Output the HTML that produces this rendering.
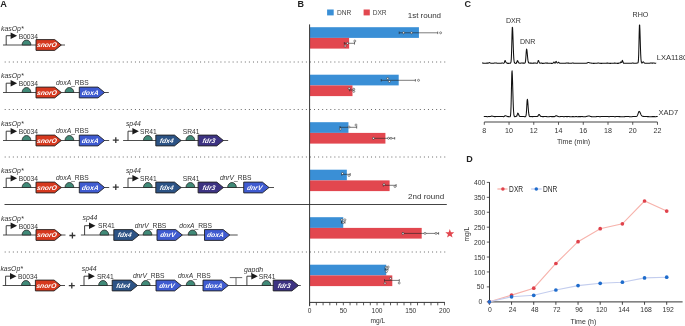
<!DOCTYPE html>
<html><head><meta charset="utf-8"><style>
html,body{margin:0;padding:0;background:#fff;}
svg{display:block;font-family:"Liberation Sans", sans-serif;will-change:transform;}
</style></head><body>
<svg width="685" height="326" viewBox="0 0 685 326">
<rect width="685" height="326" fill="#fff"/>
<line x1="3" y1="45.0" x2="65" y2="45.0" stroke="#3a3a3a" stroke-width="0.9"/>
<text x="1.00" y="31.00" font-size="6.9" fill="#333" font-style="italic" >kasOp*</text>
<path d="M6.2,45.0 V35.70 H11.10" fill="none" stroke="#2a2a2a" stroke-width="0.9"/>
<path d="M10.60,32.40 L10.60,39.10 L17.10,35.75 Z" fill="#1a1a1a"/>
<text x="18.70" y="38.90" font-size="6.7" fill="#333" >B0034</text>
<path d="M22.10,45.0 A4.4,5.0 0 0 1 30.90,45.0 Z" fill="#418a78" stroke="#222" stroke-width="0.75"/>
<path d="M36.0,39.60 H54.70 L61.30,45.0 L54.70,50.40 H36.0 Z" fill="#d6391f" stroke="#222" stroke-width="0.9"/>
<text transform="translate(46.60,47.40) skewX(-10)" font-size="6.7" fill="#fff" font-weight="bold" font-style="italic" text-anchor="middle">snorO</text>
<line x1="3" y1="92.5" x2="108.8" y2="92.5" stroke="#3a3a3a" stroke-width="0.9"/>
<text x="1.00" y="77.90" font-size="6.9" fill="#333" font-style="italic" >kasOp*</text>
<path d="M6.2,92.5 V83.20 H11.10" fill="none" stroke="#2a2a2a" stroke-width="0.9"/>
<path d="M10.60,79.90 L10.60,86.60 L17.10,83.25 Z" fill="#1a1a1a"/>
<text x="18.70" y="85.80" font-size="6.7" fill="#333" >B0034</text>
<path d="M22.10,92.5 A4.4,5.0 0 0 1 30.90,92.5 Z" fill="#418a78" stroke="#222" stroke-width="0.75"/>
<path d="M36.0,87.10 H54.70 L61.30,92.5 L54.70,97.90 H36.0 Z" fill="#d6391f" stroke="#222" stroke-width="0.9"/>
<text transform="translate(46.60,94.90) skewX(-10)" font-size="6.7" fill="#fff" font-weight="bold" font-style="italic" text-anchor="middle">snorO</text>
<text x="55.90" y="85.20" font-size="6.7" fill="#333"><tspan font-style="italic">doxA</tspan>_RBS</text>
<path d="M65.00,92.5 A4.4,5.0 0 0 1 73.80,92.5 Z" fill="#418a78" stroke="#222" stroke-width="0.75"/>
<path d="M79.3,87.10 H98.00 L104.60,92.5 L98.00,97.90 H79.3 Z" fill="#3f5bd0" stroke="#222" stroke-width="0.9"/>
<text transform="translate(89.90,94.90) skewX(-10)" font-size="6.7" fill="#fff" font-weight="bold" font-style="italic" text-anchor="middle">doxA</text>
<line x1="3" y1="140.5" x2="109.2" y2="140.5" stroke="#3a3a3a" stroke-width="0.9"/>
<text x="1.00" y="125.90" font-size="6.9" fill="#333" font-style="italic" >kasOp*</text>
<path d="M6.2,140.5 V131.20 H11.10" fill="none" stroke="#2a2a2a" stroke-width="0.9"/>
<path d="M10.60,127.90 L10.60,134.60 L17.10,131.25 Z" fill="#1a1a1a"/>
<text x="18.70" y="133.80" font-size="6.7" fill="#333" >B0034</text>
<path d="M22.10,140.5 A4.4,5.0 0 0 1 30.90,140.5 Z" fill="#418a78" stroke="#222" stroke-width="0.75"/>
<path d="M36.0,135.10 H54.70 L61.30,140.5 L54.70,145.90 H36.0 Z" fill="#d6391f" stroke="#222" stroke-width="0.9"/>
<text transform="translate(46.60,142.90) skewX(-10)" font-size="6.7" fill="#fff" font-weight="bold" font-style="italic" text-anchor="middle">snorO</text>
<text x="55.90" y="133.20" font-size="6.7" fill="#333"><tspan font-style="italic">doxA</tspan>_RBS</text>
<path d="M65.00,140.5 A4.4,5.0 0 0 1 73.80,140.5 Z" fill="#418a78" stroke="#222" stroke-width="0.75"/>
<path d="M79.3,135.10 H98.00 L104.60,140.5 L98.00,145.90 H79.3 Z" fill="#3f5bd0" stroke="#222" stroke-width="0.9"/>
<text transform="translate(89.90,142.90) skewX(-10)" font-size="6.7" fill="#fff" font-weight="bold" font-style="italic" text-anchor="middle">doxA</text>
<path d="M112.80,140.10 H118.80 M115.80,137.20 V143.00" stroke="#333" stroke-width="1.3"/>
<line x1="123.1" y1="140.5" x2="228.2" y2="140.5" stroke="#3a3a3a" stroke-width="0.9"/>
<text x="125.90" y="125.80" font-size="6.9" fill="#333" font-style="italic" >sp44</text>
<path d="M128,140.5 V131.20 H132.90" fill="none" stroke="#2a2a2a" stroke-width="0.9"/>
<path d="M132.40,127.90 L132.40,134.60 L138.90,131.25 Z" fill="#1a1a1a"/>
<text x="140.00" y="134.00" font-size="6.7" fill="#333" >SR41</text>
<path d="M143.45,140.5 A4.4,5.0 0 0 1 152.25,140.5 Z" fill="#418a78" stroke="#222" stroke-width="0.75"/>
<path d="M155.8,135.10 H174.50 L181.10,140.5 L174.50,145.90 H155.8 Z" fill="#2c5385" stroke="#222" stroke-width="0.9"/>
<text transform="translate(166.40,142.90) skewX(-10)" font-size="6.7" fill="#fff" font-weight="bold" font-style="italic" text-anchor="middle">fdx4</text>
<text x="182.70" y="134.00" font-size="6.7" fill="#333" >SR41</text>
<path d="M185.95,140.5 A4.4,5.0 0 0 1 194.75,140.5 Z" fill="#418a78" stroke="#222" stroke-width="0.75"/>
<path d="M198.1,135.10 H216.80 L223.40,140.5 L216.80,145.90 H198.1 Z" fill="#3d3382" stroke="#222" stroke-width="0.9"/>
<text transform="translate(208.70,142.90) skewX(-10)" font-size="6.7" fill="#fff" font-weight="bold" font-style="italic" text-anchor="middle">fdr3</text>
<line x1="3" y1="187.5" x2="109.2" y2="187.5" stroke="#3a3a3a" stroke-width="0.9"/>
<text x="1.00" y="172.90" font-size="6.9" fill="#333" font-style="italic" >kasOp*</text>
<path d="M6.2,187.5 V178.20 H11.10" fill="none" stroke="#2a2a2a" stroke-width="0.9"/>
<path d="M10.60,174.90 L10.60,181.60 L17.10,178.25 Z" fill="#1a1a1a"/>
<text x="18.70" y="180.80" font-size="6.7" fill="#333" >B0034</text>
<path d="M22.10,187.5 A4.4,5.0 0 0 1 30.90,187.5 Z" fill="#418a78" stroke="#222" stroke-width="0.75"/>
<path d="M36.0,182.10 H54.70 L61.30,187.5 L54.70,192.90 H36.0 Z" fill="#d6391f" stroke="#222" stroke-width="0.9"/>
<text transform="translate(46.60,189.90) skewX(-10)" font-size="6.7" fill="#fff" font-weight="bold" font-style="italic" text-anchor="middle">snorO</text>
<text x="55.90" y="180.20" font-size="6.7" fill="#333"><tspan font-style="italic">doxA</tspan>_RBS</text>
<path d="M65.00,187.5 A4.4,5.0 0 0 1 73.80,187.5 Z" fill="#418a78" stroke="#222" stroke-width="0.75"/>
<path d="M79.3,182.10 H98.00 L104.60,187.5 L98.00,192.90 H79.3 Z" fill="#3f5bd0" stroke="#222" stroke-width="0.9"/>
<text transform="translate(89.90,189.90) skewX(-10)" font-size="6.7" fill="#fff" font-weight="bold" font-style="italic" text-anchor="middle">doxA</text>
<path d="M112.80,187.10 H118.80 M115.80,184.20 V190.00" stroke="#333" stroke-width="1.3"/>
<line x1="123.1" y1="187.5" x2="274" y2="187.5" stroke="#3a3a3a" stroke-width="0.9"/>
<text x="125.90" y="172.80" font-size="6.9" fill="#333" font-style="italic" >sp44</text>
<path d="M128,187.5 V178.20 H132.90" fill="none" stroke="#2a2a2a" stroke-width="0.9"/>
<path d="M132.40,174.90 L132.40,181.60 L138.90,178.25 Z" fill="#1a1a1a"/>
<text x="140.00" y="181.00" font-size="6.7" fill="#333" >SR41</text>
<path d="M143.45,187.5 A4.4,5.0 0 0 1 152.25,187.5 Z" fill="#418a78" stroke="#222" stroke-width="0.75"/>
<path d="M155.8,182.10 H174.50 L181.10,187.5 L174.50,192.90 H155.8 Z" fill="#2c5385" stroke="#222" stroke-width="0.9"/>
<text transform="translate(166.40,189.90) skewX(-10)" font-size="6.7" fill="#fff" font-weight="bold" font-style="italic" text-anchor="middle">fdx4</text>
<text x="182.70" y="181.00" font-size="6.7" fill="#333" >SR41</text>
<path d="M185.95,187.5 A4.4,5.0 0 0 1 194.75,187.5 Z" fill="#418a78" stroke="#222" stroke-width="0.75"/>
<path d="M198.1,182.10 H216.80 L223.40,187.5 L216.80,192.90 H198.1 Z" fill="#3d3382" stroke="#222" stroke-width="0.9"/>
<text transform="translate(208.70,189.90) skewX(-10)" font-size="6.7" fill="#fff" font-weight="bold" font-style="italic" text-anchor="middle">fdr3</text>
<text x="219.90" y="180.30" font-size="6.7" fill="#333"><tspan font-style="italic">dnrV</tspan>_RBS</text>
<path d="M227.60,187.5 A4.4,5.0 0 0 1 236.40,187.5 Z" fill="#418a78" stroke="#222" stroke-width="0.75"/>
<path d="M243.7,182.10 H262.40 L269.00,187.5 L262.40,192.90 H243.7 Z" fill="#3f5bd0" stroke="#222" stroke-width="0.9"/>
<text transform="translate(254.30,189.90) skewX(-10)" font-size="6.7" fill="#fff" font-weight="bold" font-style="italic" text-anchor="middle">dnrV</text>
<line x1="3" y1="235.0" x2="65.5" y2="235.0" stroke="#3a3a3a" stroke-width="0.9"/>
<text x="1.00" y="221.10" font-size="6.9" fill="#333" font-style="italic" >kasOp*</text>
<path d="M6.2,235.0 V225.70 H11.10" fill="none" stroke="#2a2a2a" stroke-width="0.9"/>
<path d="M10.60,222.40 L10.60,229.10 L17.10,225.75 Z" fill="#1a1a1a"/>
<text x="18.70" y="229.00" font-size="6.7" fill="#333" >B0034</text>
<path d="M22.10,235.0 A4.4,5.0 0 0 1 30.90,235.0 Z" fill="#418a78" stroke="#222" stroke-width="0.75"/>
<path d="M36.0,229.60 H54.70 L61.30,235.0 L54.70,240.40 H36.0 Z" fill="#d6391f" stroke="#222" stroke-width="0.9"/>
<text transform="translate(46.60,237.40) skewX(-10)" font-size="6.7" fill="#fff" font-weight="bold" font-style="italic" text-anchor="middle">snorO</text>
<path d="M69.40,235.50 H75.40 M72.40,232.60 V238.40" stroke="#333" stroke-width="1.3"/>
<line x1="80.9" y1="235.0" x2="237.7" y2="235.0" stroke="#3a3a3a" stroke-width="0.9"/>
<text x="82.50" y="220.30" font-size="6.9" fill="#333" font-style="italic" >sp44</text>
<path d="M84.6,235.0 V225.70 H89.50" fill="none" stroke="#2a2a2a" stroke-width="0.9"/>
<path d="M89.00,222.40 L89.00,229.10 L95.50,225.75 Z" fill="#1a1a1a"/>
<text x="98.10" y="227.60" font-size="6.7" fill="#333" >SR41</text>
<path d="M99.95,235.0 A4.4,5.0 0 0 1 108.75,235.0 Z" fill="#418a78" stroke="#222" stroke-width="0.75"/>
<path d="M113.8,229.60 H132.50 L139.10,235.0 L132.50,240.40 H113.8 Z" fill="#2c5385" stroke="#222" stroke-width="0.9"/>
<text transform="translate(124.40,237.40) skewX(-10)" font-size="6.7" fill="#fff" font-weight="bold" font-style="italic" text-anchor="middle">fdx4</text>
<text x="134.70" y="228.00" font-size="6.7" fill="#333"><tspan font-style="italic">dnrV</tspan>_RBS</text>
<path d="M143.10,235.0 A4.4,5.0 0 0 1 151.90,235.0 Z" fill="#418a78" stroke="#222" stroke-width="0.75"/>
<path d="M157,229.60 H175.70 L182.30,235.0 L175.70,240.40 H157 Z" fill="#3f5bd0" stroke="#222" stroke-width="0.9"/>
<text transform="translate(167.60,237.40) skewX(-10)" font-size="6.7" fill="#fff" font-weight="bold" font-style="italic" text-anchor="middle">dnrV</text>
<text x="179.30" y="228.00" font-size="6.7" fill="#333"><tspan font-style="italic">doxA</tspan>_RBS</text>
<path d="M188.10,235.0 A4.4,5.0 0 0 1 196.90,235.0 Z" fill="#418a78" stroke="#222" stroke-width="0.75"/>
<path d="M204.5,229.60 H223.20 L229.80,235.0 L223.20,240.40 H204.5 Z" fill="#3f5bd0" stroke="#222" stroke-width="0.9"/>
<text transform="translate(215.10,237.40) skewX(-10)" font-size="6.7" fill="#fff" font-weight="bold" font-style="italic" text-anchor="middle">doxA</text>
<line x1="2.7" y1="285.5" x2="65" y2="285.5" stroke="#3a3a3a" stroke-width="0.9"/>
<text x="0.40" y="270.90" font-size="6.9" fill="#333" font-style="italic" >kasOp*</text>
<path d="M5.6000000000000005,285.5 V276.20 H10.50" fill="none" stroke="#2a2a2a" stroke-width="0.9"/>
<path d="M10.00,272.90 L10.00,279.60 L16.50,276.25 Z" fill="#1a1a1a"/>
<text x="18.10" y="278.80" font-size="6.7" fill="#333" >B0034</text>
<path d="M21.50,285.5 A4.4,5.0 0 0 1 30.30,285.5 Z" fill="#418a78" stroke="#222" stroke-width="0.75"/>
<path d="M35.4,280.10 H54.10 L60.70,285.5 L54.10,290.90 H35.4 Z" fill="#d6391f" stroke="#222" stroke-width="0.9"/>
<text transform="translate(46.00,287.90) skewX(-10)" font-size="6.7" fill="#fff" font-weight="bold" font-style="italic" text-anchor="middle">snorO</text>
<path d="M68.80,285.60 H74.80 M71.80,282.70 V288.50" stroke="#333" stroke-width="1.3"/>
<line x1="80.1" y1="285.5" x2="300.8" y2="285.5" stroke="#3a3a3a" stroke-width="0.9"/>
<text x="81.70" y="270.80" font-size="6.9" fill="#333" font-style="italic" >sp44</text>
<path d="M84.0,285.5 V276.20 H88.90" fill="none" stroke="#2a2a2a" stroke-width="0.9"/>
<path d="M88.40,272.90 L88.40,279.60 L94.90,276.25 Z" fill="#1a1a1a"/>
<text x="96.90" y="278.70" font-size="6.7" fill="#333" >SR41</text>
<path d="M98.60,285.5 A4.4,5.0 0 0 1 107.40,285.5 Z" fill="#418a78" stroke="#222" stroke-width="0.75"/>
<path d="M112.2,280.10 H130.90 L137.50,285.5 L130.90,290.90 H112.2 Z" fill="#2c5385" stroke="#222" stroke-width="0.9"/>
<text transform="translate(122.80,287.90) skewX(-10)" font-size="6.7" fill="#fff" font-weight="bold" font-style="italic" text-anchor="middle">fdx4</text>
<text x="132.90" y="278.10" font-size="6.7" fill="#333"><tspan font-style="italic">dnrV</tspan>_RBS</text>
<path d="M141.35,285.5 A4.4,5.0 0 0 1 150.15,285.5 Z" fill="#418a78" stroke="#222" stroke-width="0.75"/>
<path d="M156,280.10 H174.70 L181.30,285.5 L174.70,290.90 H156 Z" fill="#3f5bd0" stroke="#222" stroke-width="0.9"/>
<text transform="translate(166.60,287.90) skewX(-10)" font-size="6.7" fill="#fff" font-weight="bold" font-style="italic" text-anchor="middle">dnrV</text>
<text x="177.90" y="278.10" font-size="6.7" fill="#333"><tspan font-style="italic">doxA</tspan>_RBS</text>
<path d="M186.20,285.5 A4.4,5.0 0 0 1 195.00,285.5 Z" fill="#418a78" stroke="#222" stroke-width="0.75"/>
<path d="M203,280.10 H221.70 L228.30,285.5 L221.70,290.90 H203 Z" fill="#3f5bd0" stroke="#222" stroke-width="0.9"/>
<text transform="translate(213.60,287.90) skewX(-10)" font-size="6.7" fill="#fff" font-weight="bold" font-style="italic" text-anchor="middle">doxA</text>
<path d="M236,285.5 V277.6 M229.8,277.6 H242.2" stroke="#555" stroke-width="0.9" fill="none"/>
<text x="243.90" y="271.70" font-size="6.9" fill="#333" font-style="italic" >gapdh</text>
<path d="M246.9,285.5 V276.20 H251.80" fill="none" stroke="#2a2a2a" stroke-width="0.9"/>
<path d="M251.30,272.90 L251.30,279.60 L257.80,276.25 Z" fill="#1a1a1a"/>
<text x="258.80" y="279.00" font-size="6.7" fill="#333" >SR41</text>
<path d="M262.05,285.5 A4.4,5.0 0 0 1 270.85,285.5 Z" fill="#418a78" stroke="#222" stroke-width="0.75"/>
<path d="M273.2,280.10 H291.90 L298.50,285.5 L291.90,290.90 H273.2 Z" fill="#3d3382" stroke="#222" stroke-width="0.9"/>
<text transform="translate(283.80,287.90) skewX(-10)" font-size="6.7" fill="#fff" font-weight="bold" font-style="italic" text-anchor="middle">fdr3</text>
<line x1="4.7" y1="62.0" x2="446" y2="62.0" stroke="#6a6a6a" stroke-width="1" stroke-dasharray="1 3.07"/>
<line x1="4.7" y1="109.5" x2="446" y2="109.5" stroke="#6a6a6a" stroke-width="1" stroke-dasharray="1 3.07"/>
<line x1="4.7" y1="157.0" x2="446" y2="157.0" stroke="#6a6a6a" stroke-width="1" stroke-dasharray="1 3.07"/>
<line x1="4.7" y1="252.0" x2="446" y2="252.0" stroke="#6a6a6a" stroke-width="1" stroke-dasharray="1 3.07"/>
<line x1="4.5" y1="204.5" x2="446.8" y2="204.5" stroke="#444" stroke-width="1"/>
<rect x="310.0" y="27.20" width="108.93" height="10.7" fill="#3a8fd6"/>
<rect x="310.0" y="37.90" width="39.12" height="10.7" fill="#e2474f"/>
<rect x="310.0" y="74.70" width="88.70" height="10.7" fill="#3a8fd6"/>
<rect x="310.0" y="85.40" width="42.49" height="10.7" fill="#e2474f"/>
<rect x="310.0" y="122.20" width="38.45" height="10.7" fill="#3a8fd6"/>
<rect x="310.0" y="132.90" width="75.41" height="10.7" fill="#e2474f"/>
<rect x="310.0" y="169.70" width="36.83" height="10.7" fill="#3a8fd6"/>
<rect x="310.0" y="180.40" width="79.59" height="10.7" fill="#e2474f"/>
<rect x="310.0" y="217.20" width="33.25" height="10.7" fill="#3a8fd6"/>
<rect x="310.0" y="227.90" width="111.70" height="10.7" fill="#e2474f"/>
<rect x="310.0" y="264.70" width="76.22" height="10.7" fill="#3a8fd6"/>
<rect x="310.0" y="275.40" width="82.29" height="10.7" fill="#e2474f"/>
<path d="M399.2,32.8 H437.7 M399.2,31.499999999999996 V34.099999999999994 M437.7,31.499999999999996 V34.099999999999994" stroke="#222" stroke-width="0.6" fill="none"/>
<circle cx="403.6" cy="32.8" r="1.0" fill="#fff" stroke="#222" stroke-width="0.5"/>
<circle cx="411.5" cy="32.8" r="1.0" fill="#fff" stroke="#222" stroke-width="0.5"/>
<circle cx="440.6" cy="32.8" r="1.0" fill="#fff" stroke="#222" stroke-width="0.5"/>
<path d="M344.3,43.3 H354.5 M344.3,42.0 V44.599999999999994 M354.5,42.0 V44.599999999999994" stroke="#222" stroke-width="0.6" fill="none"/>
<circle cx="347.5" cy="43.3" r="1.0" fill="#fff" stroke="#222" stroke-width="0.5"/>
<circle cx="345.1" cy="46" r="1.0" fill="#fff" stroke="#222" stroke-width="0.5"/>
<circle cx="354.8" cy="41" r="1.0" fill="#fff" stroke="#222" stroke-width="0.5"/>
<path d="M381.2,80.3 H415.4 M381.2,79.0 V81.6 M415.4,79.0 V81.6" stroke="#222" stroke-width="0.6" fill="none"/>
<circle cx="387.7" cy="78.5" r="1.0" fill="#fff" stroke="#222" stroke-width="0.5"/>
<circle cx="389.4" cy="81.5" r="1.0" fill="#fff" stroke="#222" stroke-width="0.5"/>
<circle cx="418.5" cy="80.3" r="1.0" fill="#fff" stroke="#222" stroke-width="0.5"/>
<path d="M349.6,90.0 H353.4 M349.6,88.7 V91.3 M353.4,88.7 V91.3" stroke="#222" stroke-width="0.6" fill="none"/>
<circle cx="349.2" cy="88.6" r="1.0" fill="#fff" stroke="#222" stroke-width="0.5"/>
<circle cx="353.8" cy="89.2" r="1.0" fill="#fff" stroke="#222" stroke-width="0.5"/>
<circle cx="353.8" cy="91.4" r="1.0" fill="#fff" stroke="#222" stroke-width="0.5"/>
<path d="M340.0,127.3 H356.7 M340.0,126.0 V128.6 M356.7,126.0 V128.6" stroke="#222" stroke-width="0.6" fill="none"/>
<circle cx="340.3" cy="129" r="1.0" fill="#fff" stroke="#222" stroke-width="0.5"/>
<circle cx="349" cy="127" r="1.0" fill="#fff" stroke="#222" stroke-width="0.5"/>
<circle cx="356" cy="125" r="1.0" fill="#fff" stroke="#222" stroke-width="0.5"/>
<path d="M373.3,138.3 H394.7 M373.3,137.0 V139.60000000000002 M394.7,137.0 V139.60000000000002" stroke="#222" stroke-width="0.6" fill="none"/>
<circle cx="373.5" cy="138.3" r="1.0" fill="#fff" stroke="#222" stroke-width="0.5"/>
<circle cx="388.5" cy="138.3" r="1.0" fill="#fff" stroke="#222" stroke-width="0.5"/>
<circle cx="391" cy="138.3" r="1.0" fill="#fff" stroke="#222" stroke-width="0.5"/>
<path d="M341.8,174.3 H350.2 M341.8,173.0 V175.60000000000002 M350.2,173.0 V175.60000000000002" stroke="#222" stroke-width="0.6" fill="none"/>
<circle cx="342.5" cy="173.5" r="1.0" fill="#fff" stroke="#222" stroke-width="0.5"/>
<circle cx="349" cy="175.5" r="1.0" fill="#fff" stroke="#222" stroke-width="0.5"/>
<path d="M383.3,185.3 H396.1 M383.3,184.0 V186.60000000000002 M396.1,184.0 V186.60000000000002" stroke="#222" stroke-width="0.6" fill="none"/>
<circle cx="384" cy="184.5" r="1.0" fill="#fff" stroke="#222" stroke-width="0.5"/>
<circle cx="395" cy="186.5" r="1.0" fill="#fff" stroke="#222" stroke-width="0.5"/>
<path d="M341.5,222.3 H345.0 M341.5,221.0 V223.60000000000002 M345.0,221.0 V223.60000000000002" stroke="#222" stroke-width="0.6" fill="none"/>
<circle cx="341.8" cy="219.8" r="1.0" fill="#fff" stroke="#222" stroke-width="0.5"/>
<circle cx="344.9" cy="219.8" r="1.0" fill="#fff" stroke="#222" stroke-width="0.5"/>
<circle cx="343.2" cy="222.6" r="1.0" fill="#fff" stroke="#222" stroke-width="0.5"/>
<path d="M402.6,233.4 H438.6 M402.6,232.1 V234.70000000000002 M438.6,232.1 V234.70000000000002" stroke="#222" stroke-width="0.6" fill="none"/>
<circle cx="403" cy="233.4" r="1.0" fill="#fff" stroke="#222" stroke-width="0.5"/>
<circle cx="425" cy="233.4" r="1.0" fill="#fff" stroke="#222" stroke-width="0.5"/>
<circle cx="436" cy="233.4" r="1.0" fill="#fff" stroke="#222" stroke-width="0.5"/>
<path d="M385.0,269.4 H388.0 M385.0,268.09999999999997 V270.7 M388.0,268.09999999999997 V270.7" stroke="#222" stroke-width="0.6" fill="none"/>
<circle cx="386.0" cy="267.2" r="1.0" fill="#fff" stroke="#222" stroke-width="0.5"/>
<circle cx="388.2" cy="267.0" r="1.0" fill="#fff" stroke="#222" stroke-width="0.5"/>
<circle cx="386.4" cy="271.6" r="1.0" fill="#fff" stroke="#222" stroke-width="0.5"/>
<path d="M384.5,280.4 H399.3 M384.5,279.09999999999997 V281.7 M399.3,279.09999999999997 V281.7" stroke="#222" stroke-width="0.6" fill="none"/>
<circle cx="385" cy="283.2" r="1.0" fill="#fff" stroke="#222" stroke-width="0.5"/>
<circle cx="390.6" cy="278.4" r="1.0" fill="#fff" stroke="#222" stroke-width="0.5"/>
<circle cx="399.2" cy="283" r="1.0" fill="#fff" stroke="#222" stroke-width="0.5"/>
<line x1="309.6" y1="24.4" x2="309.6" y2="306.2" stroke="#333" stroke-width="1"/>
<line x1="309.6" y1="302.4" x2="444.9" y2="302.4" stroke="#333" stroke-width="1"/>
<line x1="309.60" y1="302.4" x2="309.60" y2="305.3" stroke="#333" stroke-width="0.8"/>
<text x="309.60" y="313.00" font-size="6.6" fill="#333" text-anchor="middle" >0</text>
<line x1="316.35" y1="302.4" x2="316.35" y2="305.3" stroke="#333" stroke-width="0.8"/>
<line x1="323.09" y1="302.4" x2="323.09" y2="305.3" stroke="#333" stroke-width="0.8"/>
<line x1="329.84" y1="302.4" x2="329.84" y2="305.3" stroke="#333" stroke-width="0.8"/>
<line x1="336.58" y1="302.4" x2="336.58" y2="305.3" stroke="#333" stroke-width="0.8"/>
<line x1="343.33" y1="302.4" x2="343.33" y2="305.3" stroke="#333" stroke-width="0.8"/>
<text x="343.33" y="313.00" font-size="6.6" fill="#333" text-anchor="middle" >50</text>
<line x1="350.07" y1="302.4" x2="350.07" y2="305.3" stroke="#333" stroke-width="0.8"/>
<line x1="356.81" y1="302.4" x2="356.81" y2="305.3" stroke="#333" stroke-width="0.8"/>
<line x1="363.56" y1="302.4" x2="363.56" y2="305.3" stroke="#333" stroke-width="0.8"/>
<line x1="370.31" y1="302.4" x2="370.31" y2="305.3" stroke="#333" stroke-width="0.8"/>
<line x1="377.05" y1="302.4" x2="377.05" y2="305.3" stroke="#333" stroke-width="0.8"/>
<text x="377.05" y="313.00" font-size="6.6" fill="#333" text-anchor="middle" >100</text>
<line x1="383.80" y1="302.4" x2="383.80" y2="305.3" stroke="#333" stroke-width="0.8"/>
<line x1="390.54" y1="302.4" x2="390.54" y2="305.3" stroke="#333" stroke-width="0.8"/>
<line x1="397.29" y1="302.4" x2="397.29" y2="305.3" stroke="#333" stroke-width="0.8"/>
<line x1="404.03" y1="302.4" x2="404.03" y2="305.3" stroke="#333" stroke-width="0.8"/>
<line x1="410.77" y1="302.4" x2="410.77" y2="305.3" stroke="#333" stroke-width="0.8"/>
<text x="410.77" y="313.00" font-size="6.6" fill="#333" text-anchor="middle" >150</text>
<line x1="417.52" y1="302.4" x2="417.52" y2="305.3" stroke="#333" stroke-width="0.8"/>
<line x1="424.26" y1="302.4" x2="424.26" y2="305.3" stroke="#333" stroke-width="0.8"/>
<line x1="431.01" y1="302.4" x2="431.01" y2="305.3" stroke="#333" stroke-width="0.8"/>
<line x1="437.75" y1="302.4" x2="437.75" y2="305.3" stroke="#333" stroke-width="0.8"/>
<line x1="444.50" y1="302.4" x2="444.50" y2="305.3" stroke="#333" stroke-width="0.8"/>
<text x="444.50" y="313.00" font-size="6.6" fill="#333" text-anchor="middle" >200</text>
<text x="377.90" y="323.00" font-size="6.6" fill="#333" text-anchor="middle" >mg/L</text>
<rect x="327.1" y="9.5" width="6.6" height="5.9" fill="#3a8fd6"/>
<rect x="363.6" y="9.5" width="6.2" height="5.9" fill="#e2474f"/>
<text x="337.00" y="15.30" font-size="6.6" fill="#444" >DNR</text>
<text x="372.70" y="15.30" font-size="6.6" fill="#444" >DXR</text>
<text x="407.70" y="18.00" font-size="8" fill="#333" >1st round</text>
<text x="408.10" y="198.80" font-size="8" fill="#333" >2nd round</text>
<polygon points="449.80,229.10 450.95,232.22 454.27,232.35 451.65,234.40 452.56,237.60 449.80,235.75 447.04,237.60 447.95,234.40 445.33,232.35 448.65,232.22" fill="#e2474f"/>
<text x="0.30" y="6.80" font-size="9.2" fill="#222" font-weight="bold" >A</text>
<text x="297.50" y="6.80" font-size="9" fill="#222" font-weight="bold" >B</text>
<text x="464.40" y="7.00" font-size="9" fill="#222" font-weight="bold" >C</text>
<text x="466.20" y="161.60" font-size="9" fill="#222" font-weight="bold" >D</text>
<polyline points="482.00,63.07 482.25,63.07 482.50,63.07 482.75,63.07 483.00,63.07 483.25,63.07 483.50,63.33 483.75,63.33 484.00,63.33 484.25,63.33 484.50,63.33 484.75,63.33 485.00,63.29 485.25,63.29 485.50,63.29 485.75,63.29 486.00,63.29 486.25,63.29 486.51,63.11 486.76,63.11 487.01,63.11 487.26,63.11 487.51,63.11 487.76,63.11 488.01,63.17 488.26,63.12 488.51,63.00 488.76,62.83 489.01,62.66 489.26,62.60 489.51,62.63 489.76,62.73 490.01,62.87 490.26,62.99 490.51,63.08 490.76,63.14 491.01,63.24 491.26,63.25 491.51,63.25 491.76,63.25 492.01,63.25 492.26,63.25 492.51,63.30 492.76,63.30 493.01,63.30 493.26,63.30 493.51,63.30 493.76,63.30 494.01,63.05 494.26,63.05 494.51,63.05 494.76,63.05 495.01,63.05 495.27,63.05 495.52,63.03 495.77,63.03 496.02,63.03 496.27,63.03 496.52,63.03 496.77,63.03 497.02,63.32 497.27,63.32 497.52,63.32 497.77,63.32 498.02,63.32 498.27,63.32 498.52,63.18 498.77,63.18 499.02,63.18 499.27,63.18 499.52,63.18 499.77,63.18 500.02,63.29 500.27,63.29 500.52,63.29 500.77,63.29 501.02,63.29 501.27,63.29 501.52,63.02 501.77,63.02 502.02,63.02 502.27,63.02 502.52,63.02 502.77,63.02 503.02,63.18 503.27,63.18 503.52,63.18 503.77,63.15 504.03,63.04 504.28,62.69 504.53,62.05 504.78,61.10 505.03,60.50 505.28,60.63 505.53,61.19 505.78,61.90 506.03,62.35 506.28,62.76 506.53,62.97 506.78,63.06 507.03,63.09 507.28,63.10 507.53,63.36 507.78,63.36 508.03,63.36 508.28,63.36 508.53,63.36 508.78,63.36 509.03,63.34 509.28,63.34 509.53,63.34 509.78,63.34 510.03,63.34 510.28,63.33 510.53,62.97 510.78,62.71 511.03,61.77 511.28,59.11 511.53,53.39 511.78,44.22 512.03,33.93 512.28,27.33 512.54,27.61 512.79,32.31 513.04,39.58 513.29,47.27 513.54,53.89 513.79,58.36 514.04,60.99 514.29,62.31 514.54,62.89 514.79,63.11 515.04,63.33 515.29,63.35 515.54,63.36 515.79,63.36 516.04,63.35 516.29,63.29 516.54,62.87 516.79,62.35 517.04,61.50 517.29,60.73 517.54,60.59 517.79,60.96 518.04,61.54 518.29,62.17 518.54,62.64 518.79,62.91 519.04,63.03 519.29,63.08 519.54,63.17 519.79,63.17 520.04,63.17 520.29,63.17 520.54,63.17 520.79,63.17 521.04,63.03 521.30,63.03 521.55,63.03 521.80,63.03 522.05,63.03 522.30,63.03 522.55,63.10 522.80,63.10 523.05,63.10 523.30,63.10 523.55,63.10 523.80,63.10 524.05,63.18 524.30,63.17 524.55,63.16 524.80,63.10 525.05,62.89 525.30,62.27 525.55,60.85 525.80,58.21 526.05,54.56 526.30,50.97 526.55,49.07 526.80,49.47 527.05,51.20 527.30,53.86 527.55,56.68 527.80,59.11 528.05,60.88 528.30,62.00 528.55,62.61 528.80,62.91 529.05,63.03 529.30,63.08 529.55,63.10 529.80,63.10 530.06,63.10 530.31,63.10 530.56,63.10 530.81,63.10 531.06,63.10 531.31,63.10 531.56,63.19 531.81,63.19 532.06,63.19 532.31,63.19 532.56,63.19 532.81,63.19 533.06,63.12 533.31,63.12 533.56,63.12 533.81,63.12 534.06,63.12 534.31,63.12 534.56,63.03 534.81,63.03 535.06,63.03 535.31,63.03 535.56,63.03 535.81,63.03 536.06,63.32 536.31,63.32 536.56,63.32 536.81,63.32 537.06,63.29 537.31,63.17 537.56,62.70 537.81,61.94 538.06,60.99 538.31,60.43 538.56,60.59 538.82,61.16 539.07,61.91 539.32,62.52 539.57,62.92 539.82,63.13 540.07,63.21 540.32,63.24 540.57,63.08 540.82,63.09 541.07,63.09 541.32,63.09 541.57,63.09 541.82,63.09 542.07,63.38 542.32,63.38 542.57,63.38 542.82,63.38 543.07,63.38 543.32,63.38 543.57,63.33 543.82,63.33 544.07,63.33 544.32,63.33 544.57,63.33 544.82,63.33 545.07,63.06 545.32,63.06 545.57,63.06 545.82,63.06 546.07,63.06 546.32,63.06 546.57,63.14 546.82,63.14 547.07,63.14 547.33,63.14 547.58,63.14 547.83,63.14 548.08,63.28 548.33,63.28 548.58,63.28 548.83,63.28 549.08,63.28 549.33,63.28 549.58,63.28 549.83,63.28 550.08,63.28 550.33,63.28 550.58,63.28 550.83,63.28 551.08,63.36 551.33,63.36 551.58,63.36 551.83,63.36 552.08,63.36 552.33,63.36 552.58,63.17 552.83,63.16 553.08,63.09 553.33,62.86 553.58,62.42 553.83,62.02 554.08,62.16 554.33,62.43 554.58,62.79 554.83,63.06 555.08,63.16 555.33,62.99 555.58,62.38 555.83,61.64 556.09,61.37 556.34,61.65 556.59,62.20 556.84,62.71 557.09,62.91 557.34,63.05 557.59,63.07 557.84,62.94 558.09,62.62 558.34,62.24 558.59,62.24 558.84,62.41 559.09,62.71 559.34,62.97 559.59,63.13 559.84,63.20 560.09,63.33 560.34,63.34 560.59,63.34 560.84,63.34 561.09,63.34 561.34,63.34 561.59,63.32 561.84,63.32 562.09,63.32 562.34,63.32 562.59,63.32 562.84,63.32 563.09,63.20 563.34,63.20 563.59,63.20 563.84,63.20 564.09,63.20 564.34,63.20 564.59,63.23 564.85,63.23 565.10,63.23 565.35,63.23 565.60,63.23 565.85,63.23 566.10,63.03 566.35,63.03 566.60,63.03 566.85,63.03 567.10,63.03 567.35,63.03 567.60,63.11 567.85,63.11 568.10,63.11 568.35,63.11 568.60,63.11 568.85,63.11 569.10,63.31 569.35,63.31 569.60,63.31 569.85,63.31 570.10,63.31 570.35,63.31 570.60,63.17 570.85,63.17 571.10,63.17 571.35,63.17 571.60,63.17 571.85,63.17 572.10,63.08 572.35,63.08 572.60,63.08 572.85,63.08 573.10,63.08 573.35,63.08 573.61,63.22 573.86,63.22 574.11,63.22 574.36,63.22 574.61,63.22 574.86,63.22 575.11,63.27 575.36,63.27 575.61,63.27 575.86,63.27 576.11,63.27 576.36,63.27 576.61,63.26 576.86,63.26 577.11,63.26 577.36,63.26 577.61,63.26 577.86,63.26 578.11,63.15 578.36,63.15 578.61,63.15 578.86,63.15 579.11,63.15 579.36,63.15 579.61,63.18 579.86,63.18 580.11,63.18 580.36,63.18 580.61,63.18 580.86,63.18 581.11,63.20 581.36,63.20 581.61,63.20 581.86,63.20 582.11,63.20 582.37,63.20 582.62,63.30 582.87,63.30 583.12,63.30 583.37,63.30 583.62,63.30 583.87,63.30 584.12,63.21 584.37,63.21 584.62,63.21 584.87,63.21 585.12,63.21 585.37,63.21 585.62,63.16 585.87,63.16 586.12,63.16 586.37,63.15 586.62,63.14 586.87,63.09 587.12,63.05 587.37,62.92 587.62,62.75 587.87,62.59 588.12,62.50 588.37,62.51 588.62,62.41 588.87,62.52 589.12,62.65 589.37,62.77 589.62,62.86 589.87,62.93 590.12,62.99 590.37,63.01 590.62,63.03 590.88,63.03 591.13,63.03 591.38,63.04 591.63,63.27 591.88,63.27 592.13,63.27 592.38,63.27 592.63,63.27 592.88,63.27 593.13,63.37 593.38,63.37 593.63,63.37 593.88,63.37 594.13,63.37 594.38,63.37 594.63,63.23 594.88,63.23 595.13,63.23 595.38,63.23 595.63,63.23 595.88,63.23 596.13,63.16 596.38,63.16 596.63,63.16 596.88,63.16 597.13,63.16 597.38,63.16 597.63,63.08 597.88,63.08 598.13,63.08 598.38,63.08 598.63,63.08 598.88,63.08 599.13,63.20 599.38,63.20 599.64,63.20 599.89,63.20 600.14,63.20 600.39,63.20 600.64,63.37 600.89,63.37 601.14,63.37 601.39,63.37 601.64,63.37 601.89,63.37 602.14,63.30 602.39,63.30 602.64,63.30 602.89,63.30 603.14,63.30 603.39,63.30 603.64,63.21 603.89,63.21 604.14,63.21 604.39,63.21 604.64,63.21 604.89,63.21 605.14,63.33 605.39,63.33 605.64,63.33 605.89,63.33 606.14,63.33 606.39,63.33 606.64,63.10 606.89,63.10 607.14,63.10 607.39,63.10 607.64,63.10 607.89,63.10 608.14,63.20 608.40,63.20 608.65,63.20 608.90,63.20 609.15,63.20 609.40,63.20 609.65,63.36 609.90,63.36 610.15,63.36 610.40,63.36 610.65,63.36 610.90,63.36 611.15,63.23 611.40,63.23 611.65,63.23 611.90,63.23 612.15,63.23 612.40,63.23 612.65,63.19 612.90,63.19 613.15,63.19 613.40,63.19 613.65,63.19 613.90,63.19 614.15,63.12 614.40,63.12 614.65,63.12 614.90,63.12 615.15,63.12 615.40,63.12 615.65,63.22 615.90,63.22 616.15,63.22 616.40,63.22 616.65,63.22 616.90,63.22 617.16,63.36 617.41,63.36 617.66,63.36 617.91,63.36 618.16,63.36 618.41,63.36 618.66,63.02 618.91,63.02 619.16,63.02 619.41,63.02 619.66,63.01 619.91,62.97 620.16,63.07 620.41,62.64 620.66,62.10 620.91,61.91 621.16,62.11 621.41,62.41 621.66,62.40 621.91,61.71 622.16,60.72 622.41,60.43 622.66,60.93 622.91,61.77 623.16,62.56 623.41,63.03 623.66,63.25 623.91,63.32 624.16,63.33 624.41,63.34 624.66,63.29 624.91,63.29 625.16,63.29 625.41,63.29 625.66,63.29 625.92,63.29 626.17,63.31 626.42,63.31 626.67,63.31 626.92,63.31 627.17,63.31 627.42,63.31 627.67,63.21 627.92,63.21 628.17,63.21 628.42,63.21 628.67,63.21 628.92,63.21 629.17,63.22 629.42,63.22 629.67,63.22 629.92,63.22 630.17,63.22 630.42,63.22 630.67,63.17 630.92,63.17 631.17,63.17 631.42,63.17 631.67,63.17 631.92,63.17 632.17,63.04 632.42,63.04 632.67,63.04 632.92,63.04 633.17,63.04 633.42,63.04 633.67,63.33 633.92,63.33 634.17,63.33 634.43,63.33 634.68,63.33 634.93,63.33 635.18,63.23 635.43,63.23 635.68,63.23 635.93,63.23 636.18,63.23 636.43,63.23 636.68,63.09 636.93,63.09 637.18,63.09 637.43,63.09 637.68,63.06 637.93,62.90 638.18,62.33 638.43,60.11 638.68,54.70 638.93,45.11 639.18,33.41 639.43,25.20 639.68,25.01 639.93,30.24 640.18,38.48 640.43,47.09 640.68,54.07 640.93,58.71 641.18,61.23 641.43,62.43 641.68,62.90 641.93,63.01 642.18,62.92 642.43,62.66 642.68,62.28 642.93,61.94 643.19,61.85 643.44,61.97 643.69,62.22 643.94,62.52 644.19,62.84 644.44,63.02 644.69,63.13 644.94,63.18 645.19,63.20 645.44,63.21 645.69,63.24 645.94,63.24 646.19,63.24 646.44,63.24 646.69,63.24 646.94,63.24 647.19,63.24 647.44,63.24 647.69,63.24 647.94,63.24 648.19,63.24 648.44,63.24 648.69,63.18 648.94,63.18 649.19,63.18 649.44,63.18 649.69,63.18 649.94,63.18 650.19,63.03 650.44,63.03 650.69,63.03 650.94,63.03 651.19,63.03 651.44,63.03 651.69,63.10 651.95,63.10 652.20,63.10 652.45,63.10 652.70,63.10 652.95,63.10 653.20,63.08 653.45,63.08 653.70,63.08 653.95,63.08 654.20,63.08 654.45,63.08 654.70,63.23 654.95,63.23 655.20,63.23 655.45,63.23 655.70,63.23 655.95,63.23 656.20,63.33" fill="none" stroke="#111" stroke-width="1.05" stroke-linejoin="round"/>
<polyline points="483.80,116.54 484.05,116.54 484.30,116.54 484.55,116.54 484.80,116.54 485.05,116.54 485.30,116.47 485.55,116.47 485.80,116.47 486.05,116.47 486.30,116.47 486.55,116.47 486.80,116.65 487.05,116.65 487.30,116.65 487.55,116.65 487.80,116.65 488.05,116.65 488.30,116.45 488.55,116.45 488.80,116.45 489.05,116.45 489.30,116.45 489.55,116.44 489.81,116.61 490.06,116.60 490.31,116.58 490.56,116.53 490.81,116.45 491.06,116.33 491.31,116.15 491.56,116.07 491.81,116.05 492.06,116.09 492.31,116.16 492.56,116.25 492.81,116.23 493.06,116.30 493.31,116.36 493.56,116.40 493.81,116.42 494.06,116.43 494.31,116.60 494.56,116.60 494.81,116.60 495.06,116.60 495.31,116.60 495.56,116.60 495.81,116.43 496.06,116.43 496.31,116.43 496.56,116.43 496.81,116.43 497.06,116.43 497.31,116.58 497.56,116.58 497.81,116.58 498.06,116.58 498.31,116.58 498.56,116.58 498.81,116.45 499.06,116.45 499.31,116.45 499.56,116.45 499.81,116.45 500.06,116.45 500.31,116.45 500.56,116.45 500.81,116.45 501.06,116.45 501.32,116.45 501.57,116.45 501.82,116.57 502.07,116.57 502.32,116.57 502.57,116.57 502.82,116.57 503.07,116.57 503.32,116.70 503.57,116.67 503.82,116.62 504.07,116.53 504.32,116.40 504.57,116.24 504.82,115.83 505.07,115.71 505.32,115.66 505.57,115.69 505.82,115.75 506.07,115.86 506.32,116.01 506.57,116.13 506.82,116.24 507.07,116.32 507.32,116.39 507.57,116.43 507.82,116.61 508.07,116.63 508.32,116.64 508.57,116.64 508.82,116.64 509.07,116.65 509.32,116.76 509.57,116.76 509.82,116.74 510.07,116.65 510.32,116.29 510.57,115.11 510.82,111.86 511.07,105.41 511.32,95.06 511.57,82.72 511.82,73.09 512.07,70.80 512.32,74.45 512.57,81.92 512.83,91.06 513.08,99.76 513.33,106.65 513.58,111.33 513.83,114.30 514.08,115.73 514.33,116.38 514.58,116.64 514.83,116.73 515.08,116.76 515.33,116.43 515.58,116.44 515.83,116.43 516.08,116.41 516.33,116.34 516.58,116.14 516.83,116.00 517.08,115.26 517.33,114.30 517.58,113.46 517.83,113.13 518.08,113.33 518.33,113.66 518.58,114.36 518.83,115.06 519.08,115.64 519.33,116.04 519.58,116.29 519.83,116.37 520.08,116.43 520.33,116.46 520.58,116.47 520.83,116.47 521.08,116.47 521.33,116.46 521.58,116.46 521.83,116.46 522.08,116.46 522.33,116.46 522.58,116.46 522.83,116.53 523.08,116.53 523.33,116.53 523.58,116.53 523.83,116.53 524.08,116.53 524.33,116.71 524.59,116.71 524.84,116.71 525.09,116.71 525.34,116.69 525.59,116.60 525.84,116.05 526.09,115.15 526.34,113.14 526.59,109.65 526.84,105.06 527.09,100.89 527.34,99.23 527.59,100.10 527.84,102.57 528.09,105.92 528.34,109.33 528.59,112.18 528.84,114.22 529.09,115.46 529.34,116.13 529.59,116.45 529.84,116.58 530.09,116.63 530.34,116.55 530.59,116.55 530.84,116.55 531.09,116.55 531.34,116.55 531.59,116.55 531.84,116.62 532.09,116.62 532.34,116.62 532.59,116.62 532.84,116.62 533.09,116.62 533.34,116.44 533.59,116.44 533.84,116.44 534.09,116.44 534.34,116.44 534.59,116.44 534.84,116.44 535.09,116.44 535.34,116.44 535.59,116.44 535.84,116.44 536.10,116.44 536.35,116.49 536.60,116.49 536.85,116.49 537.10,116.47 537.35,116.43 537.60,116.31 537.85,116.25 538.10,115.86 538.35,115.35 538.60,114.84 538.85,114.51 539.10,114.49 539.35,114.58 539.60,114.91 539.85,115.30 540.10,115.68 540.35,116.01 540.60,116.24 540.85,116.36 541.10,116.45 541.35,116.49 541.60,116.52 541.85,116.53 542.10,116.53 542.35,116.63 542.60,116.63 542.85,116.63 543.10,116.63 543.35,116.63 543.60,116.63 543.85,116.58 544.10,116.58 544.35,116.58 544.60,116.58 544.85,116.58 545.10,116.58 545.35,116.53 545.60,116.53 545.85,116.53 546.10,116.53 546.35,116.53 546.60,116.53 546.85,116.71 547.10,116.71 547.35,116.71 547.61,116.71 547.86,116.71 548.11,116.71 548.36,116.67 548.61,116.67 548.86,116.67 549.11,116.67 549.36,116.67 549.61,116.67 549.86,116.51 550.11,116.51 550.36,116.51 550.61,116.51 550.86,116.51 551.11,116.51 551.36,116.63 551.61,116.63 551.86,116.63 552.11,116.63 552.36,116.63 552.61,116.63 552.86,116.61 553.11,116.61 553.36,116.61 553.61,116.60 553.86,116.60 554.11,116.58 554.36,116.66 554.61,116.58 554.86,116.46 555.11,116.28 555.36,116.08 555.61,115.89 555.86,115.71 556.11,115.68 556.36,115.73 556.61,115.83 556.86,115.97 557.11,116.12 557.36,116.10 557.61,116.23 557.86,116.33 558.11,116.40 558.36,116.45 558.61,116.49 558.86,116.75 559.11,116.76 559.37,116.77 559.62,116.77 559.87,116.77 560.12,116.77 560.37,116.46 560.62,116.46 560.87,116.46 561.12,116.46 561.37,116.46 561.62,116.46 561.87,116.57 562.12,116.57 562.37,116.57 562.62,116.57 562.87,116.57 563.12,116.57 563.37,116.69 563.62,116.69 563.87,116.69 564.12,116.69 564.37,116.69 564.62,116.69 564.87,116.47 565.12,116.47 565.37,116.47 565.62,116.47 565.87,116.47 566.12,116.47 566.37,116.60 566.62,116.60 566.87,116.60 567.12,116.60 567.37,116.60 567.62,116.60 567.87,116.43 568.12,116.43 568.37,116.43 568.62,116.43 568.87,116.43 569.12,116.43 569.37,116.66 569.62,116.66 569.87,116.66 570.12,116.66 570.37,116.66 570.62,116.66 570.88,116.70 571.13,116.70 571.38,116.70 571.63,116.70 571.88,116.70 572.13,116.70 572.38,116.63 572.63,116.63 572.88,116.63 573.13,116.63 573.38,116.63 573.63,116.63 573.88,116.74 574.13,116.74 574.38,116.74 574.63,116.74 574.88,116.74 575.13,116.74 575.38,116.53 575.63,116.53 575.88,116.53 576.13,116.53 576.38,116.53 576.63,116.53 576.88,116.67 577.13,116.67 577.38,116.67 577.63,116.67 577.88,116.67 578.13,116.67 578.38,116.63 578.63,116.63 578.88,116.63 579.13,116.63 579.38,116.63 579.63,116.63 579.88,116.63 580.13,116.63 580.38,116.63 580.63,116.63 580.88,116.63 581.13,116.63 581.38,116.58 581.63,116.58 581.88,116.58 582.13,116.58 582.39,116.58 582.64,116.58 582.89,116.72 583.14,116.72 583.39,116.72 583.64,116.72 583.89,116.72 584.14,116.72 584.39,116.76 584.64,116.76 584.89,116.76 585.14,116.76 585.39,116.75 585.64,116.74 585.89,116.55 586.14,116.52 586.39,116.48 586.64,116.42 586.89,116.34 587.14,116.26 587.39,116.23 587.64,116.15 587.89,116.09 588.14,116.06 588.39,116.06 588.64,116.09 588.89,115.92 589.14,115.97 589.39,116.04 589.64,116.10 589.89,116.17 590.14,116.23 590.39,116.51 590.64,116.56 590.89,116.59 591.14,116.62 591.39,116.64 591.64,116.65 591.89,116.64 592.14,116.65 592.39,116.65 592.64,116.65 592.89,116.65 593.14,116.65 593.39,116.78 593.64,116.78 593.89,116.78 594.15,116.78 594.40,116.78 594.65,116.78 594.90,116.72 595.15,116.72 595.40,116.72 595.65,116.72 595.90,116.72 596.15,116.72 596.40,116.52 596.65,116.52 596.90,116.52 597.15,116.52 597.40,116.52 597.65,116.52 597.90,116.56 598.15,116.56 598.40,116.56 598.65,116.56 598.90,116.56 599.15,116.56 599.40,116.66 599.65,116.66 599.90,116.66 600.15,116.66 600.40,116.66 600.65,116.66 600.90,116.43 601.15,116.43 601.40,116.43 601.65,116.43 601.90,116.43 602.15,116.43 602.40,116.59 602.65,116.59 602.90,116.59 603.15,116.59 603.40,116.59 603.65,116.59 603.90,116.48 604.15,116.48 604.40,116.48 604.65,116.48 604.90,116.48 605.15,116.48 605.40,116.46 605.66,116.46 605.91,116.46 606.16,116.46 606.41,116.46 606.66,116.46 606.91,116.44 607.16,116.44 607.41,116.44 607.66,116.44 607.91,116.44 608.16,116.44 608.41,116.70 608.66,116.70 608.91,116.70 609.16,116.70 609.41,116.70 609.66,116.70 609.91,116.47 610.16,116.47 610.41,116.47 610.66,116.47 610.91,116.47 611.16,116.47 611.41,116.51 611.66,116.51 611.91,116.51 612.16,116.51 612.41,116.51 612.66,116.51 612.91,116.56 613.16,116.56 613.41,116.56 613.66,116.56 613.91,116.56 614.16,116.56 614.41,116.73 614.66,116.73 614.91,116.73 615.16,116.73 615.41,116.73 615.66,116.73 615.91,116.45 616.16,116.45 616.41,116.45 616.66,116.45 616.91,116.45 617.17,116.45 617.42,116.58 617.67,116.58 617.92,116.58 618.17,116.58 618.42,116.58 618.67,116.58 618.92,116.62 619.17,116.62 619.42,116.62 619.67,116.62 619.92,116.62 620.17,116.62 620.42,116.74 620.67,116.74 620.92,116.74 621.17,116.74 621.42,116.74 621.67,116.74 621.92,116.71 622.17,116.71 622.42,116.71 622.67,116.71 622.92,116.71 623.17,116.71 623.42,116.73 623.67,116.73 623.92,116.73 624.17,116.73 624.42,116.73 624.67,116.73 624.92,116.52 625.17,116.52 625.42,116.52 625.67,116.52 625.92,116.52 626.17,116.52 626.42,116.57 626.67,116.57 626.92,116.57 627.17,116.57 627.42,116.57 627.67,116.57 627.92,116.55 628.17,116.55 628.42,116.55 628.67,116.55 628.93,116.55 629.18,116.55 629.43,116.74 629.68,116.74 629.93,116.74 630.18,116.74 630.43,116.74 630.68,116.74 630.93,116.76 631.18,116.76 631.43,116.76 631.68,116.76 631.93,116.76 632.18,116.76 632.43,116.47 632.68,116.47 632.93,116.47 633.18,116.47 633.43,116.47 633.68,116.47 633.93,116.48 634.18,116.48 634.43,116.48 634.68,116.48 634.93,116.48 635.18,116.48 635.43,116.50 635.68,116.49 635.93,116.48 636.18,116.45 636.43,116.39 636.68,116.28 636.93,116.10 637.18,115.82 637.43,115.40 637.68,114.83 637.93,114.13 638.18,113.35 638.43,112.66 638.68,111.99 638.93,111.54 639.18,111.39 639.43,111.49 639.68,111.76 639.93,112.21 640.18,112.73 640.44,113.31 640.69,113.89 640.94,114.46 641.19,114.96 641.44,115.28 641.69,115.63 641.94,115.90 642.19,116.11 642.44,116.25 642.69,116.35 642.94,116.32 643.19,116.36 643.44,116.39 643.69,116.40 643.94,116.41 644.19,116.42 644.44,116.57 644.69,116.57 644.94,116.57 645.19,116.57 645.44,116.57 645.69,116.57 645.94,116.55 646.19,116.55 646.44,116.55 646.69,116.55 646.94,116.55 647.19,116.55 647.44,116.62 647.69,116.62 647.94,116.62 648.19,116.62 648.44,116.62 648.69,116.62 648.94,116.76 649.19,116.76 649.44,116.76 649.69,116.76 649.94,116.76 650.19,116.76 650.44,116.67 650.69,116.67 650.94,116.67 651.19,116.67 651.44,116.67 651.69,116.67 651.95,116.61 652.20,116.61 652.45,116.61 652.70,116.61 652.95,116.61 653.20,116.61 653.45,116.64 653.70,116.64 653.95,116.64 654.20,116.64 654.45,116.64 654.70,116.64 654.95,116.66 655.20,116.66 655.45,116.66 655.70,116.66 655.95,116.66 656.20,116.66 656.45,116.44 656.70,116.44 656.95,116.44 657.20,116.44 657.45,116.44 657.70,116.44" fill="none" stroke="#111" stroke-width="1.05" stroke-linejoin="round"/>
<line x1="484.3" y1="122.0" x2="657.4" y2="122.0" stroke="#444" stroke-width="1.1"/>
<line x1="484.30" y1="122.0" x2="484.30" y2="124.8" stroke="#444" stroke-width="0.9"/>
<text x="484.30" y="132.60" font-size="7.1" fill="#333" text-anchor="middle" >8</text>
<line x1="509.04" y1="122.0" x2="509.04" y2="124.8" stroke="#444" stroke-width="0.9"/>
<text x="509.04" y="132.60" font-size="7.1" fill="#333" text-anchor="middle" >10</text>
<line x1="533.78" y1="122.0" x2="533.78" y2="124.8" stroke="#444" stroke-width="0.9"/>
<text x="533.78" y="132.60" font-size="7.1" fill="#333" text-anchor="middle" >12</text>
<line x1="558.52" y1="122.0" x2="558.52" y2="124.8" stroke="#444" stroke-width="0.9"/>
<text x="558.52" y="132.60" font-size="7.1" fill="#333" text-anchor="middle" >14</text>
<line x1="583.26" y1="122.0" x2="583.26" y2="124.8" stroke="#444" stroke-width="0.9"/>
<text x="583.26" y="132.60" font-size="7.1" fill="#333" text-anchor="middle" >16</text>
<line x1="608.00" y1="122.0" x2="608.00" y2="124.8" stroke="#444" stroke-width="0.9"/>
<text x="608.00" y="132.60" font-size="7.1" fill="#333" text-anchor="middle" >18</text>
<line x1="632.74" y1="122.0" x2="632.74" y2="124.8" stroke="#444" stroke-width="0.9"/>
<text x="632.74" y="132.60" font-size="7.1" fill="#333" text-anchor="middle" >20</text>
<line x1="657.48" y1="122.0" x2="657.48" y2="124.8" stroke="#444" stroke-width="0.9"/>
<text x="657.48" y="132.60" font-size="7.1" fill="#333" text-anchor="middle" >22</text>
<text x="573.60" y="144.30" font-size="7" fill="#333" text-anchor="middle" >Time (min)</text>
<text x="505.90" y="23.30" font-size="7.1" fill="#333" >DXR</text>
<text x="519.90" y="43.50" font-size="7.1" fill="#333" >DNR</text>
<text x="632.60" y="17.10" font-size="7.1" fill="#333" >RHO</text>
<text x="656.80" y="59.70" font-size="7.5" fill="#333" >LXA1180</text>
<text x="658.60" y="114.70" font-size="7.5" fill="#333" >XAD7</text>
<line x1="489.5" y1="182.2" x2="489.5" y2="302.4" stroke="#333" stroke-width="1"/>
<line x1="489" y1="301.9" x2="682.6" y2="301.9" stroke="#333" stroke-width="1"/>
<line x1="486.8" y1="301.80" x2="489.5" y2="301.80" stroke="#333" stroke-width="0.8"/>
<text transform="translate(482.40,304.40) scale(1.0,1.1)" font-size="6.8" fill="#333" text-anchor="end" >0</text>
<line x1="486.8" y1="286.88" x2="489.5" y2="286.88" stroke="#333" stroke-width="0.8"/>
<text transform="translate(484.20,289.48) scale(1.0,1.1)" font-size="6.8" fill="#333" text-anchor="end" >50</text>
<line x1="486.8" y1="271.95" x2="489.5" y2="271.95" stroke="#333" stroke-width="0.8"/>
<text transform="translate(485.20,274.55) scale(1.0,1.1)" font-size="6.8" fill="#333" text-anchor="end" >100</text>
<line x1="486.8" y1="257.03" x2="489.5" y2="257.03" stroke="#333" stroke-width="0.8"/>
<text transform="translate(485.20,259.63) scale(1.0,1.1)" font-size="6.8" fill="#333" text-anchor="end" >150</text>
<line x1="486.8" y1="242.10" x2="489.5" y2="242.10" stroke="#333" stroke-width="0.8"/>
<text transform="translate(485.20,244.70) scale(1.0,1.1)" font-size="6.8" fill="#333" text-anchor="end" >200</text>
<line x1="486.8" y1="227.18" x2="489.5" y2="227.18" stroke="#333" stroke-width="0.8"/>
<text transform="translate(485.20,229.78) scale(1.0,1.1)" font-size="6.8" fill="#333" text-anchor="end" >250</text>
<line x1="486.8" y1="212.25" x2="489.5" y2="212.25" stroke="#333" stroke-width="0.8"/>
<text transform="translate(485.20,214.85) scale(1.0,1.1)" font-size="6.8" fill="#333" text-anchor="end" >300</text>
<line x1="486.8" y1="197.33" x2="489.5" y2="197.33" stroke="#333" stroke-width="0.8"/>
<text transform="translate(485.20,199.93) scale(1.0,1.1)" font-size="6.8" fill="#333" text-anchor="end" >350</text>
<line x1="486.8" y1="182.40" x2="489.5" y2="182.40" stroke="#333" stroke-width="0.8"/>
<text transform="translate(485.20,185.00) scale(1.0,1.1)" font-size="6.8" fill="#333" text-anchor="end" >400</text>
<line x1="489.40" y1="301.9" x2="489.40" y2="304.8" stroke="#333" stroke-width="0.9"/>
<text x="489.80" y="312.40" font-size="6.8" fill="#333" text-anchor="middle" >0</text>
<line x1="511.56" y1="301.9" x2="511.56" y2="304.8" stroke="#333" stroke-width="0.9"/>
<text x="512.56" y="312.40" font-size="6.8" fill="#333" text-anchor="middle" >24</text>
<line x1="533.73" y1="301.9" x2="533.73" y2="304.8" stroke="#333" stroke-width="0.9"/>
<text x="534.73" y="312.40" font-size="6.8" fill="#333" text-anchor="middle" >48</text>
<line x1="555.89" y1="301.9" x2="555.89" y2="304.8" stroke="#333" stroke-width="0.9"/>
<text x="556.89" y="312.40" font-size="6.8" fill="#333" text-anchor="middle" >72</text>
<line x1="578.05" y1="301.9" x2="578.05" y2="304.8" stroke="#333" stroke-width="0.9"/>
<text x="579.05" y="312.40" font-size="6.8" fill="#333" text-anchor="middle" >96</text>
<line x1="600.21" y1="301.9" x2="600.21" y2="304.8" stroke="#333" stroke-width="0.9"/>
<text x="601.71" y="312.40" font-size="6.8" fill="#333" text-anchor="middle" >120</text>
<line x1="622.38" y1="301.9" x2="622.38" y2="304.8" stroke="#333" stroke-width="0.9"/>
<text x="623.88" y="312.40" font-size="6.8" fill="#333" text-anchor="middle" >144</text>
<line x1="644.54" y1="301.9" x2="644.54" y2="304.8" stroke="#333" stroke-width="0.9"/>
<text x="646.04" y="312.40" font-size="6.8" fill="#333" text-anchor="middle" >168</text>
<line x1="666.70" y1="301.9" x2="666.70" y2="304.8" stroke="#333" stroke-width="0.9"/>
<text x="668.20" y="312.40" font-size="6.8" fill="#333" text-anchor="middle" >192</text>
<text x="583.40" y="324.00" font-size="7" fill="#333" text-anchor="middle" >Time (h)</text>
<text x="0" y="0" font-size="6.6" fill="#333" text-anchor="middle" transform="translate(468.7,234.2) rotate(-90)">mg/L</text>
<polyline points="489.40,301.80 511.56,295.10 533.73,288.20 555.89,263.50 578.05,241.70 600.21,228.70 622.38,223.80 644.54,201.00 666.70,211.10" fill="none" stroke="#f7b3ac" stroke-width="1.1"/>
<circle cx="489.40" cy="301.80" r="1.85" fill="#e0424c"/>
<circle cx="511.56" cy="295.10" r="1.85" fill="#e0424c"/>
<circle cx="533.73" cy="288.20" r="1.85" fill="#e0424c"/>
<circle cx="555.89" cy="263.50" r="1.85" fill="#e0424c"/>
<circle cx="578.05" cy="241.70" r="1.85" fill="#e0424c"/>
<circle cx="600.21" cy="228.70" r="1.85" fill="#e0424c"/>
<circle cx="622.38" cy="223.80" r="1.85" fill="#e0424c"/>
<circle cx="644.54" cy="201.00" r="1.85" fill="#e0424c"/>
<circle cx="666.70" cy="211.10" r="1.85" fill="#e0424c"/>
<polyline points="489.40,301.80 511.56,296.80 533.73,295.30 555.89,290.00 578.05,285.60 600.21,283.30 622.38,282.20 644.54,277.90 666.70,277.20" fill="none" stroke="#c3cdee" stroke-width="1.1"/>
<circle cx="489.40" cy="301.80" r="1.85" fill="#1e6ccc"/>
<circle cx="511.56" cy="296.80" r="1.85" fill="#1e6ccc"/>
<circle cx="533.73" cy="295.30" r="1.85" fill="#1e6ccc"/>
<circle cx="555.89" cy="290.00" r="1.85" fill="#1e6ccc"/>
<circle cx="578.05" cy="285.60" r="1.85" fill="#1e6ccc"/>
<circle cx="600.21" cy="283.30" r="1.85" fill="#1e6ccc"/>
<circle cx="622.38" cy="282.20" r="1.85" fill="#1e6ccc"/>
<circle cx="644.54" cy="277.90" r="1.85" fill="#1e6ccc"/>
<circle cx="666.70" cy="277.20" r="1.85" fill="#1e6ccc"/>
<line x1="497.4" y1="189" x2="507.5" y2="189" stroke="#f7b3ac" stroke-width="1.3"/>
<circle cx="502.9" cy="189" r="1.75" fill="#e0424c"/>
<text transform="translate(509.10,191.70) scale(0.98,1.2)" font-size="6.8" fill="#2a2a2a" >DXR</text>
<line x1="531.1" y1="189" x2="541.7" y2="189" stroke="#c3cdee" stroke-width="1.3"/>
<circle cx="536.3" cy="189" r="1.75" fill="#1e6ccc"/>
<text transform="translate(542.90,191.70) scale(0.98,1.2)" font-size="6.8" fill="#2a2a2a" >DNR</text>
</svg>
</body></html>
